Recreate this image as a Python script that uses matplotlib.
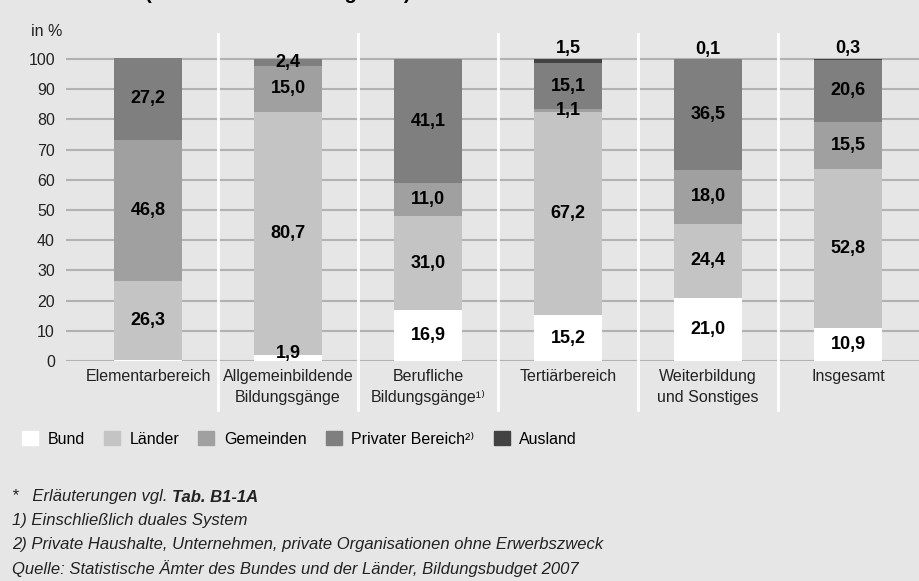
import matplotlib.pyplot as plt
import numpy as np

plt.rcParams['font.family'] = ['Liberation Sans', 'DejaVu Sans']

bereiche = ['Elementarbereich', 'Allgemeinbildende\nBildungsgänge', 'Berufliche\nBildungsgänge¹⁾',
            'Tertiärbereich', 'Weiterbildung\nund Sonstiges', 'Insgesamt']
quellen = ['Bund', 'Länder', 'Gemeinden', 'Privater Bereich²⁾', 'Ausland']
farben = ['#ffffff', '#c4c4c4', '#a0a0a0', '#7f7f7f', '#424242']

bund = [0.2, 1.9, 16.9, 15.2, 21.0, 10.9]
laender = [26.3, 80.7, 31.0, 67.2, 24.4, 52.8]
gemeinden = [46.8, 15.0, 11.0, 1.1, 18.0, 15.5]
privat = [27.2, 2.4, 41.1, 15.1, 36.5, 20.6]
ausland = [0.0, 0.0, 0.0, 1.5, 0.1, 0.3]

reihen = [bund, laender, gemeinden, privat, ausland]

fig = plt.figure(figsize=(9.19, 5.81), dpi=100, facecolor='#e6e6e6')
ax = fig.add_axes([66 / 919, 1 - 361 / 581, 1 - 66 / 919, (361 - 34) / 581])
ax.set_facecolor('#e6e6e6')

x = np.arange(len(bereiche))
boden = np.zeros(len(bereiche))
for r, reihe in enumerate(reihen):
    werte = np.array(reihe)
    ax.bar(x, werte, 0.486, bottom=boden, color=farben[r], zorder=2)
    for i, w in enumerate(werte):
        if r == len(reihen) - 1:
            # Ausland ueber dem Balken
            if w > 0:
                ax.text(i, boden[i] + w + 3.3, f'{w:.1f}'.replace('.', ','),
                        ha='center', va='center', fontsize=13, fontweight='bold', zorder=5)
        elif w >= 0.5:
            y = min(max(boden[i] + w / 2, 2.4), 99.6)
            ax.text(i, y, f'{w:.1f}'.replace('.', ','),
                    ha='center', va='center', fontsize=13, fontweight='bold', zorder=5)
    boden += werte

ymax = 108.3
ax.set_ylim(0, ymax)
ax.set_xlim(-0.586, 5.507)
ax.set_yticks(range(0, 101, 10))
ax.set_xticks(x)
ax.set_xticklabels(bereiche, fontsize=11.5, color='#222222', linespacing=1.45)
ax.tick_params(axis='y', length=0, labelsize=11.5, colors='#222222', pad=8)
ax.tick_params(axis='x', length=0, pad=6)
for s in ax.spines.values():
    s.set_visible(False)
ax.set_axisbelow(True)
ax.grid(axis='y', color='#b2b2b2', lw=1.5)

for i in range(len(bereiche) - 1):
    ax.axvline(i + 0.5, ymin=-16.2 / ymax, ymax=1, color='white', lw=2, zorder=1, clip_on=False)

fig.text(31 / 919, 1 - 32 / 581, 'in %', fontsize=11.5, color='#222222', va='center')

# Ueberschrift ist im Original oben abgeschnitten
fig.text(145 / 919, 1 + 1 / 581, '(in % der Gesamtausgaben)', fontsize=14.5,
         fontweight='bold', va='baseline')

handles = [plt.Rectangle((0, 0), 1, 1, color=c) for c in farben]
fig.legend(handles, quellen, loc='center left', bbox_to_anchor=(22 / 919, 1 - 439 / 581),
           ncol=5, frameon=False, fontsize=11.5, handlelength=1.0, handleheight=1.0,
           handletextpad=0.6, columnspacing=1.2, borderpad=0, borderaxespad=0)

fuss = ['1) Einschließlich duales System',
        '2) Private Haushalte, Unternehmen, private Organisationen ohne Erwerbszweck',
        'Quelle: Statistische Ämter des Bundes und der Länder, Bildungsbudget 2007']
t = fig.text(12 / 919, 1 - 497 / 581, '*   Erläuterungen vgl. ', fontsize=12,
             style='italic', va='center', color='#222222')
fig.canvas.draw()
bb = t.get_window_extent()
fig.text(bb.x1 / fig.bbox.width, 1 - 497 / 581, 'Tab. B1-1A', fontsize=12, style='italic',
         fontweight='bold', va='center', color='#222222')
for k, zeile in enumerate(fuss):
    fig.text(12 / 919, 1 - (521 + 24 * k) / 581, zeile, fontsize=12, style='italic',
             va='center', color='#222222')

fig.savefig('out.png', dpi=100, facecolor=fig.get_facecolor())
